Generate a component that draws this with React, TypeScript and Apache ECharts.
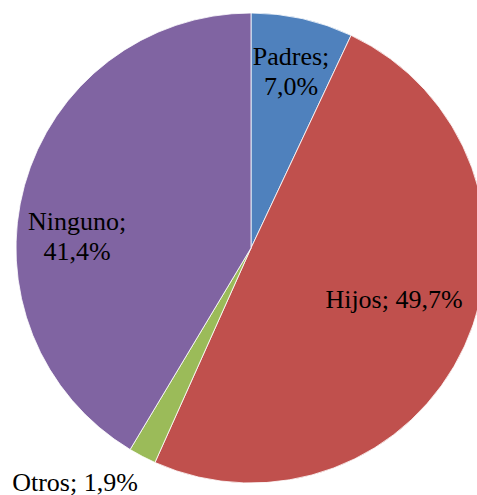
import React, { useEffect, useRef } from "react";
import * as echarts from "echarts";

const categories = ["Padres", "Hijos", "Otros", "Ninguno"];
const values = [7.0, 49.7, 1.9, 41.4];
const colors = ["#4F81BD", "#C0504D", "#9BBB59", "#8064A2"];

// label anchor points (layout only)
const labelAnchors = [
  { x: 291, y: 71 },
  { x: 394, y: 299 },
  { x: 75, y: 482 },
  { x: 77, y: 236 },
];
const labelBreak = [true, false, false, true];

export default function App() {
  const ref = useRef<HTMLDivElement>(null);
  useEffect(() => {
    if (!ref.current) return;
    const chart = echarts.init(ref.current, undefined, { renderer: "svg" });
    chart.setOption({
      animation: false,
      backgroundColor: "#ffffff",
      series: [
        {
          type: "pie",
          center: [251, 248],
          radius: [0, 235],
          startAngle: 90,
          clockwise: true,
          avoidLabelOverlap: false,
          data: categories.map((c, i) => ({
            name: c,
            value: values[i],
            itemStyle: { color: colors[i] },
          })),
          itemStyle: { borderColor: "#ffffff", borderWidth: 0.8 },
          labelLine: { show: false },
          label: {
            show: true,
            position: "inside",
            fontFamily: "'Liberation Serif', 'Times New Roman', serif",
            fontSize: 26,
            lineHeight: 30,
            color: "#000000",
            align: "center",
            formatter: (p: any) => {
              const v = values[p.dataIndex].toFixed(1).replace(".", ",") + "%";
              return labelBreak[p.dataIndex] ? `${p.name};\n${v}` : `${p.name}; ${v}`;
            },
          },
          labelLayout: (p: any) => ({
            x: labelAnchors[p.dataIndex].x,
            y: labelAnchors[p.dataIndex].y,
            align: "center",
            verticalAlign: "middle",
          }),
          emphasis: { disabled: true },
        },
      ],
    });
    return () => chart.dispose();
  }, []);
  return (
    <div
      ref={ref}
      style={{ position: "fixed", left: 0, top: 0, width: 477, height: 495, background: "#fff" }}
    />
  );
}
